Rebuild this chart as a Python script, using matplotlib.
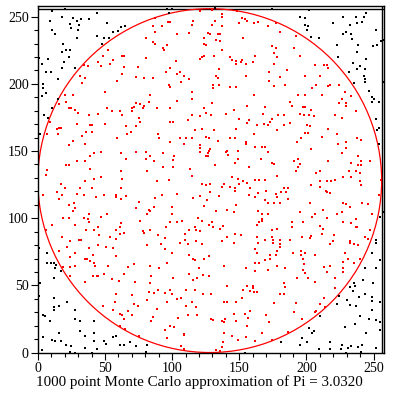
import matplotlib
matplotlib.use("Agg")
import numpy as np
import matplotlib.pyplot as plt
from matplotlib.patches import Circle
from matplotlib.ticker import MultipleLocator

# ── Data (grouped by region) ─────────────────────────────────────────────────
CENTER = 128
RADIUS = 128
N_POINTS = 1000
PI_EST = "3.0320"

top_left = [
    (10.4, 254.1), (20.4, 255.6), (44.2, 253.1), (9.2, 246.9), (17.9, 249.6), (26.2, 249.1),
    (29.2, 246.9), (31.9, 248.1), (38.4, 248.1), (24.2, 244.9), (30.4, 243.6), (24.9, 241.9),
    (51.7, 245.4), (10.4, 239.9), (12.9, 236.9), (29.9, 239.9), (55.9, 238.9), (59.4, 239.6),
    (62.2, 242.4), (64.7, 243.1), (44.2, 235.4), (29.2, 234.1), (49.2, 233.9), (52.9, 234.4),
    (18.4, 229.4), (47.9, 229.4), (20.9, 224.9), (23.7, 225.4), (17.9, 223.6), (22.9, 219.9),
    (0.9, 219.6), (7.4, 218.4), (19.2, 216.6), (2.9, 214.6), (17.9, 211.6), (27.9, 211.6),
    (9.7, 209.1), (5.9, 208.6), (14.9, 203.4), (3.7, 199.6), (3.7, 196.6), (6.2, 193.1),
    (3.4, 191.1), (14.7, 189.1), (0.0, 188.1), (10.4, 182.4), (4.7, 176.9), (7.4, 174.4),
    (52.4, 225.6), (48.7, 221.1), (64.2, 221.1), (62.4, 220.6), (44.9, 216.6), (56.2, 217.9),
    (34.2, 214.4), (37.4, 213.6), (47.2, 213.6), (53.4, 214.9), (64.4, 212.4), (62.9, 207.4),
    (31.2, 206.1), (35.4, 204.1), (32.9, 200.6), (58.7, 202.4), (49.7, 194.1), (20.4, 191.9),
    (26.2, 191.4), (21.2, 186.6), (15.9, 185.4), (23.4, 182.4), (24.7, 182.4), (27.4, 180.6),
    (29.9, 178.6), (51.7, 182.4), (55.4, 179.9), (61.2, 179.9), (37.9, 177.1), (44.9, 177.9),
    (62.4, 176.6), (8.9, 171.9),
]

top_mid_left = [
    (95.9, 255.6), (99.9, 255.6), (97.9, 253.1),
    (121.1, 254.4), (129.6, 255.1), (87.1, 249.1), (115.9, 246.6), (96.6, 246.1), (98.6, 246.1),
    (85.9, 243.1), (92.1, 243.1), (115.1, 243.6), (129.6, 243.6), (87.4, 238.6), (103.6, 237.4),
    (112.9, 237.9), (126.6, 237.9), (127.9, 236.9), (80.4, 234.1), (124.1, 234.1), (86.1, 231.1),
    (87.4, 229.4), (96.1, 228.6), (124.1, 229.4), (124.9, 228.6), (93.1, 226.6), (93.6, 225.6),
    (80.4, 219.6), (102.9, 217.4), (120.4, 218.6), (122.1, 219.9), (123.6, 220.6), (130.9, 220.6),
    (74.6, 212.4), (98.6, 211.6), (95.6, 209.1), (103.6, 207.6), (106.1, 208.6), (109.1, 205.6),
    (112.9, 203.4), (73.1, 205.4), (79.1, 204.1), (85.9, 204.1), (106.9, 201.1), (97.9, 199.4),
    (98.6, 197.4), (130.1, 199.4), (130.1, 196.6), (115.1, 193.6), (83.6, 191.9), (115.1, 189.1),
    (103.6, 186.9), (82.9, 186.6), (73.1, 185.6), (76.1, 184.9), (129.6, 186.1), (71.6, 183.1),
    (79.1, 183.6), (70.1, 182.1), (78.4, 182.1), (88.6, 182.1), (98.6, 182.1), (124.1, 182.4),
    (69.9, 179.9), (115.1, 177.1), (120.4, 176.4), (124.9, 178.1), (129.1, 176.6), (75.1, 174.6),
    (112.1, 173.4), (76.1, 171.6), (98.6, 171.6), (100.9, 171.6),
]

top_mid_right = [
    (131.7, 256.3), (174.7, 255.6), (194.9, 249.9),
    (137.4, 251.9), (136.9, 249.9), (148.2, 254.0), (152.2, 249.4), (154.2, 248.6), (155.4, 246.9),
    (149.9, 245.4), (160.9, 245.4), (164.2, 246.1), (171.7, 243.1), (177.4, 245.6), (131.7, 246.9),
    (137.2, 242.9), (180.4, 238.6), (192.4, 235.6), (134.2, 236.9), (135.4, 236.9), (152.9, 234.1),
    (132.4, 232.6), (135.4, 231.9), (174.7, 228.1), (177.4, 226.6), (190.4, 226.6), (136.9, 224.9),
    (175.9, 222.9), (178.4, 219.9), (195.4, 220.6), (142.9, 220.4), (144.7, 218.1), (147.4, 217.4),
    (152.2, 218.1), (151.4, 216.6), (147.4, 215.1), (154.9, 215.1), (161.7, 220.6), (160.4, 216.6),
    (175.9, 215.1), (185.9, 210.6), (134.9, 210.9), (172.4, 208.6), (132.4, 206.1), (134.2, 204.1),
    (154.9, 206.1), (180.4, 205.4), (172.4, 202.4), (134.9, 199.4), (184.2, 199.4), (175.9, 198.1),
    (142.9, 197.4), (147.4, 197.4), (193.4, 191.4), (160.9, 191.4), (187.4, 186.6), (188.9, 183.6),
    (197.2, 183.1), (155.4, 183.9), (169.2, 183.1), (145.9, 180.6), (139.9, 177.9), (167.4, 177.9),
    (179.2, 177.1), (183.4, 177.1), (194.9, 177.9), (149.9, 174.1), (174.2, 174.1), (157.4, 173.1),
    (155.9, 171.1), (172.9, 171.9), (187.4, 170.9),
]

top_right = [
    (202.1, 255.1), (244.1, 253.1), (199.1, 249.1), (227.1, 249.9), (237.1, 249.9), (242.9, 249.9),
    (241.1, 246.1), (237.9, 245.6), (219.6, 245.4), (198.6, 243.6), (201.1, 243.1), (200.4, 239.9),
    (232.4, 243.6), (251.6, 239.9), (229.6, 238.6), (227.1, 236.9), (232.9, 236.9), (233.6, 233.6),
    (209.1, 234.1), (203.1, 234.6), (257.1, 232.6), (255.9, 231.9), (252.9, 228.6), (249.6, 227.9),
    (238.6, 228.6), (222.6, 228.6), (237.9, 223.6), (223.6, 220.4), (244.6, 218.4), (234.9, 215.4),
    (239.9, 213.6), (237.4, 211.1), (243.4, 211.1), (231.6, 209.1), (242.9, 206.1), (243.6, 203.6),
    (243.6, 201.1), (235.4, 200.4), (257.4, 201.1), (246.6, 194.9), (248.6, 190.6), (250.4, 188.6),
    (249.1, 186.6), (254.1, 186.6), (252.1, 174.1),
    (206.1, 214.4), (212.9, 214.4), (215.4, 214.4), (216.1, 211.6), (198.6, 206.1), (209.9, 206.1),
    (217.6, 199.4), (207.1, 199.4), (216.1, 198.1), (204.1, 196.6), (224.1, 199.4), (228.6, 193.6),
    (211.6, 192.1), (233.4, 191.1), (198.6, 191.9), (226.4, 188.9), (224.1, 186.1), (229.6, 186.1),
    (229.6, 183.6), (198.6, 183.1), (203.1, 180.6), (237.1, 179.9), (197.9, 176.9), (202.1, 176.9),
    (205.4, 176.1), (221.1, 176.9), (226.6, 174.6),
]

mid_left = [
    (1.4, 162.5), (0.4, 154.5), (0.4, 106.5),
    (29.2, 170.3), (39.2, 169.5), (40.4, 169.5), (49.7, 170.3), (14.4, 166.5), (15.4, 167.0),
    (17.4, 167.0), (6.9, 162.5), (14.9, 162.5), (35.9, 164.0), (40.4, 164.0), (32.9, 161.0),
    (59.2, 159.8), (26.2, 157.3), (23.4, 154.5), (35.4, 155.0), (41.7, 148.3), (46.7, 149.0),
    (39.2, 146.0), (61.7, 148.3), (29.2, 142.3), (34.9, 142.3), (21.2, 139.5), (23.4, 139.5),
    (39.2, 137.0), (6.9, 135.8), (5.9, 132.5), (62.2, 134.8), (17.4, 125.8), (35.4, 128.0),
    (42.2, 129.5), (47.4, 131.0), (62.4, 129.5), (20.4, 122.8), (31.7, 122.8), (40.4, 122.8),
    (61.7, 122.8), (14.2, 119.8), (17.9, 117.5), (29.4, 118.3), (34.7, 117.0), (49.2, 117.5),
    (58.4, 117.5), (3.9, 117.5), (15.9, 114.5), (43.4, 115.5), (57.9, 115.5), (61.7, 114.5),
    (27.2, 111.5), (23.4, 109.5), (27.4, 107.8), (26.2, 105.5), (51.7, 102.8), (38.4, 102.8),
    (46.7, 101.0), (18.4, 100.3), (23.4, 100.3), (34.7, 100.3), (37.4, 99.5), (38.4, 97.3),
    (27.9, 95.3), (10.4, 95.3), (44.9, 93.5), (61.7, 96.5), (60.9, 93.5), (36.2, 91.3),
    (41.7, 91.3), (45.4, 87.5), (6.2, 91.3), (57.9, 91.3), (60.9, 88.5), (64.4, 89.3),
    (17.9, 86.0), (53.4, 86.0), (57.9, 84.8), (30.4, 83.5), (31.9, 83.5),
]

mid_mid_left = [
    (65.4, 169.0), (73.1, 168.5), (66.6, 162.5), (69.4, 164.0), (89.6, 162.5), (90.4, 159.8),
    (106.1, 159.8), (110.6, 159.8), (115.1, 159.8), (117.4, 165.5), (121.9, 166.3), (130.9, 165.5),
    (124.9, 160.5), (127.1, 159.8), (98.6, 156.5), (109.1, 155.0), (120.4, 154.3), (120.4, 152.0),
    (127.9, 151.3), (127.1, 149.8), (126.4, 148.3), (121.1, 149.0), (124.9, 146.0), (126.4, 146.0),
    (73.1, 149.0), (80.6, 149.0), (83.6, 146.0), (80.6, 143.8), (86.6, 142.3), (93.1, 148.3),
    (101.6, 146.0), (100.9, 143.0), (65.6, 143.8), (93.1, 137.8), (100.9, 137.8), (113.6, 137.0),
    (81.4, 134.8), (115.1, 131.8), (88.9, 128.0), (97.9, 128.8), (121.9, 125.8), (124.9, 125.0),
    (127.9, 125.8), (127.9, 119.8), (65.6, 116.8), (87.4, 115.3), (92.6, 117.5), (103.9, 117.9),
    (115.5, 115.3), (121.1, 116.8), (125.6, 113.8), (75.4, 112.3), (124.1, 109.3), (73.1, 107.8),
    (86.6, 108.5), (100.1, 108.5), (82.9, 106.3), (83.6, 105.5), (81.4, 103.3), (100.1, 103.3),
    (118.9, 100.3), (76.1, 98.0), (98.6, 97.3), (103.9, 97.3), (107.6, 98.0), (121.9, 98.0),
    (129.4, 97.3), (127.1, 95.0), (130.1, 93.5), (117.4, 93.5), (95.6, 93.5), (112.9, 91.3),
    (118.1, 91.3), (121.1, 90.5), (78.4, 90.5), (79.1, 89.0), (83.6, 91.3), (89.6, 87.5),
    (109.9, 88.3), (94.9, 85.3), (109.9, 83.8),
]

mid_mid_right = [
    (147.4, 166.5), (162.9, 169.5), (168.4, 170.3), (171.7, 169.5), (178.4, 166.0), (183.4, 169.5),
    (160.9, 162.5), (142.9, 159.8), (146.9, 159.8), (134.2, 157.3), (154.9, 156.5), (154.9, 155.0),
    (195.9, 159.8), (192.9, 156.5), (161.9, 153.0), (167.2, 153.0), (169.4, 153.0), (171.7, 149.0),
    (149.2, 149.8), (140.9, 149.8), (139.9, 149.0), (141.7, 147.0), (148.9, 143.8), (166.4, 143.8),
    (174.4, 141.0), (175.9, 140.0), (157.4, 137.8), (146.9, 141.0), (131.9, 139.3), (190.4, 142.5),
    (193.4, 143.8), (195.4, 140.0), (193.4, 137.8), (192.4, 134.8), (178.4, 131.8), (144.4, 131.0),
    (149.2, 129.5), (152.9, 128.0), (161.9, 128.8), (164.9, 128.8), (169.4, 128.8), (155.9, 126.5),
    (149.9, 125.8), (138.4, 125.8), (136.9, 123.5), (142.9, 123.5), (146.9, 122.8), (146.9, 120.5),
    (157.9, 122.8), (183.4, 122.8), (186.6, 122.8), (184.9, 119.8), (181.4, 119.8), (169.9, 120.5),
    (177.4, 118.3), (164.2, 118.5), (157.4, 117.5), (134.9, 116.8), (161.7, 115.5), (178.4, 115.5),
    (186.4, 114.5), (169.4, 113.5), (171.4, 111.5), (175.9, 111.0), (180.4, 111.5), (147.4, 109.5),
    (132.4, 105.5), (140.9, 106.3), (145.9, 104.8), (164.2, 105.5), (167.2, 103.5), (171.4, 103.5),
    (194.9, 104.8), (166.9, 99.5), (166.9, 98.0), (164.9, 97.3), (163.4, 95.3), (188.9, 97.3),
    (197.2, 97.3), (137.9, 94.3), (135.4, 92.0), (188.9, 93.5), (178.4, 92.0), (174.4, 91.3),
    (146.9, 88.3), (151.4, 87.5), (140.9, 86.0), (163.4, 86.0), (174.4, 86.0), (169.4, 84.0),
    (175.4, 83.5), (180.4, 84.0), (187.9, 83.8), (196.4, 86.3),
]

mid_right = [
    (254.1, 167.0), (252.6, 165.5), (254.1, 155.0), (257.4, 104.8), (254.9, 101.0), (252.1, 83.5),
    (200.4, 169.5), (202.6, 168.5), (216.1, 166.5), (198.6, 163.3), (201.1, 163.3), (222.9, 162.5),
    (211.6, 160.5), (237.9, 159.8), (240.6, 158.0), (229.6, 156.5), (223.6, 155.0), (229.6, 152.3),
    (203.1, 151.5), (226.6, 148.3), (238.6, 146.0), (216.1, 142.3), (233.1, 140.8), (240.6, 142.3),
    (247.6, 142.3), (238.1, 139.3), (240.6, 139.3), (207.1, 134.0), (210.1, 135.5), (231.6, 134.8),
    (237.1, 135.5), (240.1, 134.0), (227.1, 131.0), (233.4, 131.0), (210.1, 128.0), (215.1, 128.0),
    (218.4, 128.0), (221.1, 128.8), (240.1, 128.0), (240.6, 125.0), (255.6, 128.8), (203.1, 125.0),
    (210.1, 123.5), (214.6, 120.5), (215.1, 119.8), (217.6, 118.5), (254.1, 117.5), (202.6, 111.5),
    (227.1, 111.5), (229.6, 110.8), (232.6, 108.5), (241.6, 111.5), (246.1, 110.8), (212.1, 106.3),
    (206.1, 103.3), (204.1, 101.0), (222.9, 103.5), (226.6, 104.8), (249.1, 103.5), (215.1, 100.3),
    (237.1, 99.5), (227.1, 97.3), (233.4, 96.5), (210.1, 94.3), (236.6, 93.5), (237.9, 93.5),
    (247.6, 91.3), (212.1, 92.0), (211.6, 88.3), (220.6, 87.5), (243.6, 86.0), (202.6, 85.3),
    (203.6, 86.5), (219.6, 83.3), (232.4, 83.3), (246.1, 84.5),
]

bottom_left = [
    (0.9, 77.9), (6.9, 73.9), (6.9, 66.4), (9.9, 66.4), (12.4, 66.4), (13.9, 64.9), (12.9, 62.7),
    (17.4, 60.4), (12.4, 55.4), (1.4, 51.7), (0.9, 42.4), (11.9, 40.9), (21.9, 37.9), (11.9, 34.2),
    (12.4, 31.9), (15.4, 34.4), (27.9, 31.4), (3.9, 28.2), (5.4, 26.9), (27.9, 25.2), (8.9, 23.2),
    (31.4, 23.2), (41.9, 23.2), (3.9, 11.4), (15.4, 14.9), (31.6, 15.7), (35.4, 12.4), (41.9, 14.2),
    (10.4, 9.4), (12.9, 8.9), (17.4, 8.9), (21.2, 5.7), (24.4, 4.9), (35.4, 3.7), (41.9, 8.7),
    (49.4, 8.7), (50.9, 6.4), (55.9, 11.4), (58.4, 12.4), (44.4, 2.9), (61.4, 5.7), (63.9, 5.7),
    (0.0, 3.7), (2.9, 2.2), (24.2, 0.5), (27.4, 0.0), (40.4, 0.0),
    (23.7, 82.9), (44.9, 80.2), (50.4, 78.4), (55.9, 77.7), (21.9, 78.4), (15.9, 75.4), (23.9, 70.9),
    (27.9, 74.4), (37.9, 77.7), (57.9, 71.9), (41.4, 72.4), (34.9, 69.4), (36.9, 69.4), (38.9, 67.9),
    (41.9, 66.9), (51.9, 64.4), (18.9, 63.4), (23.9, 63.4), (27.4, 64.4), (42.4, 64.4), (63.9, 58.4),
    (49.4, 58.4), (23.9, 56.7), (40.9, 56.7), (43.9, 56.7), (44.9, 56.7), (54.9, 54.4), (60.4, 53.4),
    (35.4, 52.2), (57.9, 43.4), (57.4, 37.7), (55.9, 31.4), (48.9, 34.9), (61.4, 28.9), (62.9, 28.2),
    (63.9, 25.2), (61.4, 19.4), (64.8, 17.2),
]

bottom_mid_left = [
    (68.6, 8.1), (73.1, 4.9), (81.1, 5.6), (80.6, 0.2),
    (81.1, 80.2), (91.6, 80.9), (105.9, 81.4), (112.1, 80.9), (117.9, 83.2), (121.9, 80.9),
    (94.9, 76.9), (100.1, 73.9), (112.9, 72.4), (115.9, 69.4), (117.4, 68.7), (123.4, 69.4),
    (127.1, 71.9), (71.6, 65.9), (67.1, 63.4), (83.6, 64.2), (90.1, 62.9), (96.1, 66.4),
    (120.1, 62.9), (112.6, 58.4), (123.1, 57.4), (127.1, 56.9), (118.6, 55.2), (115.6, 53.7),
    (84.1, 56.9), (100.6, 55.2), (72.1, 52.2), (83.6, 51.7), (89.6, 46.9), (82.6, 45.4),
    (86.6, 44.2), (94.9, 44.2), (98.6, 46.2), (100.1, 43.9), (110.6, 46.2), (117.1, 46.9),
    (106.6, 40.9), (103.6, 40.2), (123.1, 43.4), (129.1, 43.4), (70.1, 43.2), (81.1, 39.4),
    (96.1, 37.4), (115.1, 37.9), (71.6, 36.4), (74.6, 34.4), (110.6, 34.4), (117.9, 34.2),
    (88.6, 32.7), (67.1, 31.2), (70.1, 28.2), (111.6, 28.2), (118.6, 28.2), (85.6, 26.7),
    (104.6, 25.9), (84.1, 23.2), (129.1, 25.2), (130.6, 23.9), (98.6, 19.9), (101.1, 19.2),
    (94.6, 16.9), (109.1, 13.9), (109.1, 12.7), (75.0, 12.0), (96.1, 10.9), (106.6, 4.9),
    (109.1, 2.9),
]

bottom_mid_right = [
    (181.2, 8.2), (194.9, 5.7), (154.2, 0.0),
    (136.9, 83.2), (145.9, 81.4), (164.2, 81.4), (175.4, 81.4), (180.4, 80.7), (180.4, 78.4),
    (177.9, 75.7), (161.7, 76.9), (162.9, 74.4), (195.9, 75.4), (189.9, 73.9), (195.9, 72.4),
    (172.9, 72.4), (177.4, 72.4), (169.2, 68.9), (172.9, 69.4), (161.9, 66.4), (164.9, 66.4),
    (178.4, 64.4), (184.4, 62.9), (171.4, 61.2), (154.9, 62.9), (197.4, 61.4), (138.4, 64.4),
    (161.7, 60.4), (192.9, 55.2), (183.4, 51.4), (184.2, 48.7), (140.9, 49.4), (155.9, 49.4),
    (160.4, 49.4), (160.4, 48.2), (157.9, 45.7), (160.9, 45.2), (162.9, 45.2), (152.9, 46.2),
    (180.4, 43.9), (183.4, 43.4), (151.9, 40.9), (147.4, 37.9), (140.9, 37.9), (138.4, 37.4),
    (175.9, 36.7), (192.4, 36.7), (157.9, 31.2), (190.4, 29.9), (169.9, 28.2), (145.9, 28.9),
    (154.4, 28.9), (156.6, 25.4), (139.2, 25.2), (137.4, 23.4), (138.4, 22.9), (147.4, 23.2),
    (171.9, 22.9), (196.4, 25.2), (155.9, 19.9), (138.4, 14.9), (166.9, 14.9), (186.4, 15.4),
    (144.4, 12.4), (154.9, 11.4), (148.9, 9.4), (174.5, 9.5), (161.7, 8.7), (137.9, 7.9),
    (137.4, 4.4), (132.4, 1.9), (135.4, 0.8),
]

bottom_right = [
    (217.6, 80.9), (232.1, 81.9), (235.4, 80.9), (238.6, 80.2), (198.6, 73.9), (206.1, 72.7),
    (197.6, 69.4), (198.1, 65.9), (199.1, 58.9), (201.1, 55.2), (213.1, 63.4), (217.6, 64.4),
    (215.1, 59.7), (227.1, 62.9), (228.6, 74.2), (227.1, 67.4), (231.1, 69.4), (235.6, 66.4),
    (240.1, 69.4), (227.1, 59.9), (206.6, 52.4), (221.1, 55.2), (221.1, 48.4), (212.9, 40.9),
    (210.1, 36.4), (213.9, 34.0), (207.1, 31.2), (206.6, 29.9),
    (252.1, 81.4), (248.6, 73.9), (254.6, 68.9), (243.6, 62.7), (252.1, 62.7), (241.8, 53.9),
    (249.6, 51.7), (235.4, 51.7), (236.1, 49.4), (232.6, 48.9), (234.6, 45.9), (224.1, 42.4),
    (243.6, 43.4), (239.1, 41.4), (249.1, 41.4), (249.1, 38.2), (254.6, 37.7), (223.1, 36.4),
    (230.1, 39.4), (232.6, 35.2), (236.6, 34.4), (249.1, 31.4), (240.1, 26.9), (209.9, 26.9),
    (246.6, 24.9), (252.1, 24.4), (254.6, 22.4), (202.1, 18.2), (228.6, 19.2), (236.1, 20.9),
    (205.6, 15.7), (204.1, 14.7), (244.1, 14.9), (254.6, 16.9), (196.6, 10.9), (200.1, 8.2),
    (217.6, 8.2), (226.6, 5.9), (230.6, 3.4), (233.1, 5.2), (238.1, 4.4), (241.6, 5.9),
    (209.1, 2.9), (217.6, 2.9), (226.1, 2.9), (252.1, 3.4), (240.6, 0.6), (229.1, 0.0),
]

regions = [top_left, top_mid_left, top_mid_right, top_right,
           mid_left, mid_mid_left, mid_mid_right, mid_right,
           bottom_left, bottom_mid_left, bottom_mid_right, bottom_right]
pts = np.array([p for r in regions for p in r])
xs, ys = pts[:, 0], pts[:, 1]
inside = (xs - CENTER) ** 2 + (ys - CENTER) ** 2 <= RADIUS ** 2

# ── Figure ───────────────────────────────────────────────────────────────────
plt.rcParams["font.family"] = ["Liberation Serif", "DejaVu Serif"]

fig = plt.figure(figsize=(3.96, 4.0), dpi=100, facecolor="white")
ax = fig.add_axes([0.0955, 0.117, 0.875, 0.868])

ax.add_patch(Circle((CENTER, CENTER), RADIUS, fill=False, color="#ff0000", lw=0.9, zorder=2))
ax.plot(xs[inside], ys[inside], ls="none", marker="s", ms=1.6, mew=0, color="#ff0000", zorder=3)
ax.plot(xs[~inside], ys[~inside], ls="none", marker="s", ms=1.6, mew=0, color="black", zorder=3)

# inner box line at the data extent
ax.axhline(256, color="black", lw=1.0, zorder=1)
ax.axvline(256, color="black", lw=1.0, zorder=1)

ax.set_xlim(0, 258)
ax.set_ylim(-0.5, 258)
for s in ax.spines.values():
    s.set_linewidth(1.0)

ax.xaxis.set_major_locator(MultipleLocator(50))
ax.xaxis.set_minor_locator(MultipleLocator(10))
ax.yaxis.set_major_locator(MultipleLocator(50))
ax.yaxis.set_minor_locator(MultipleLocator(10))
ax.tick_params(which="major", direction="out", length=5, width=0.8, labelsize=10, pad=1.5)
ax.tick_params(which="minor", direction="out", length=3, width=0.8)

fig.text(0.504, 0.045, f"{N_POINTS} point Monte Carlo approximation of Pi = {PI_EST}",
         ha="center", va="center", fontsize=10.8)

fig.savefig("out.png", dpi=100, facecolor="white")
